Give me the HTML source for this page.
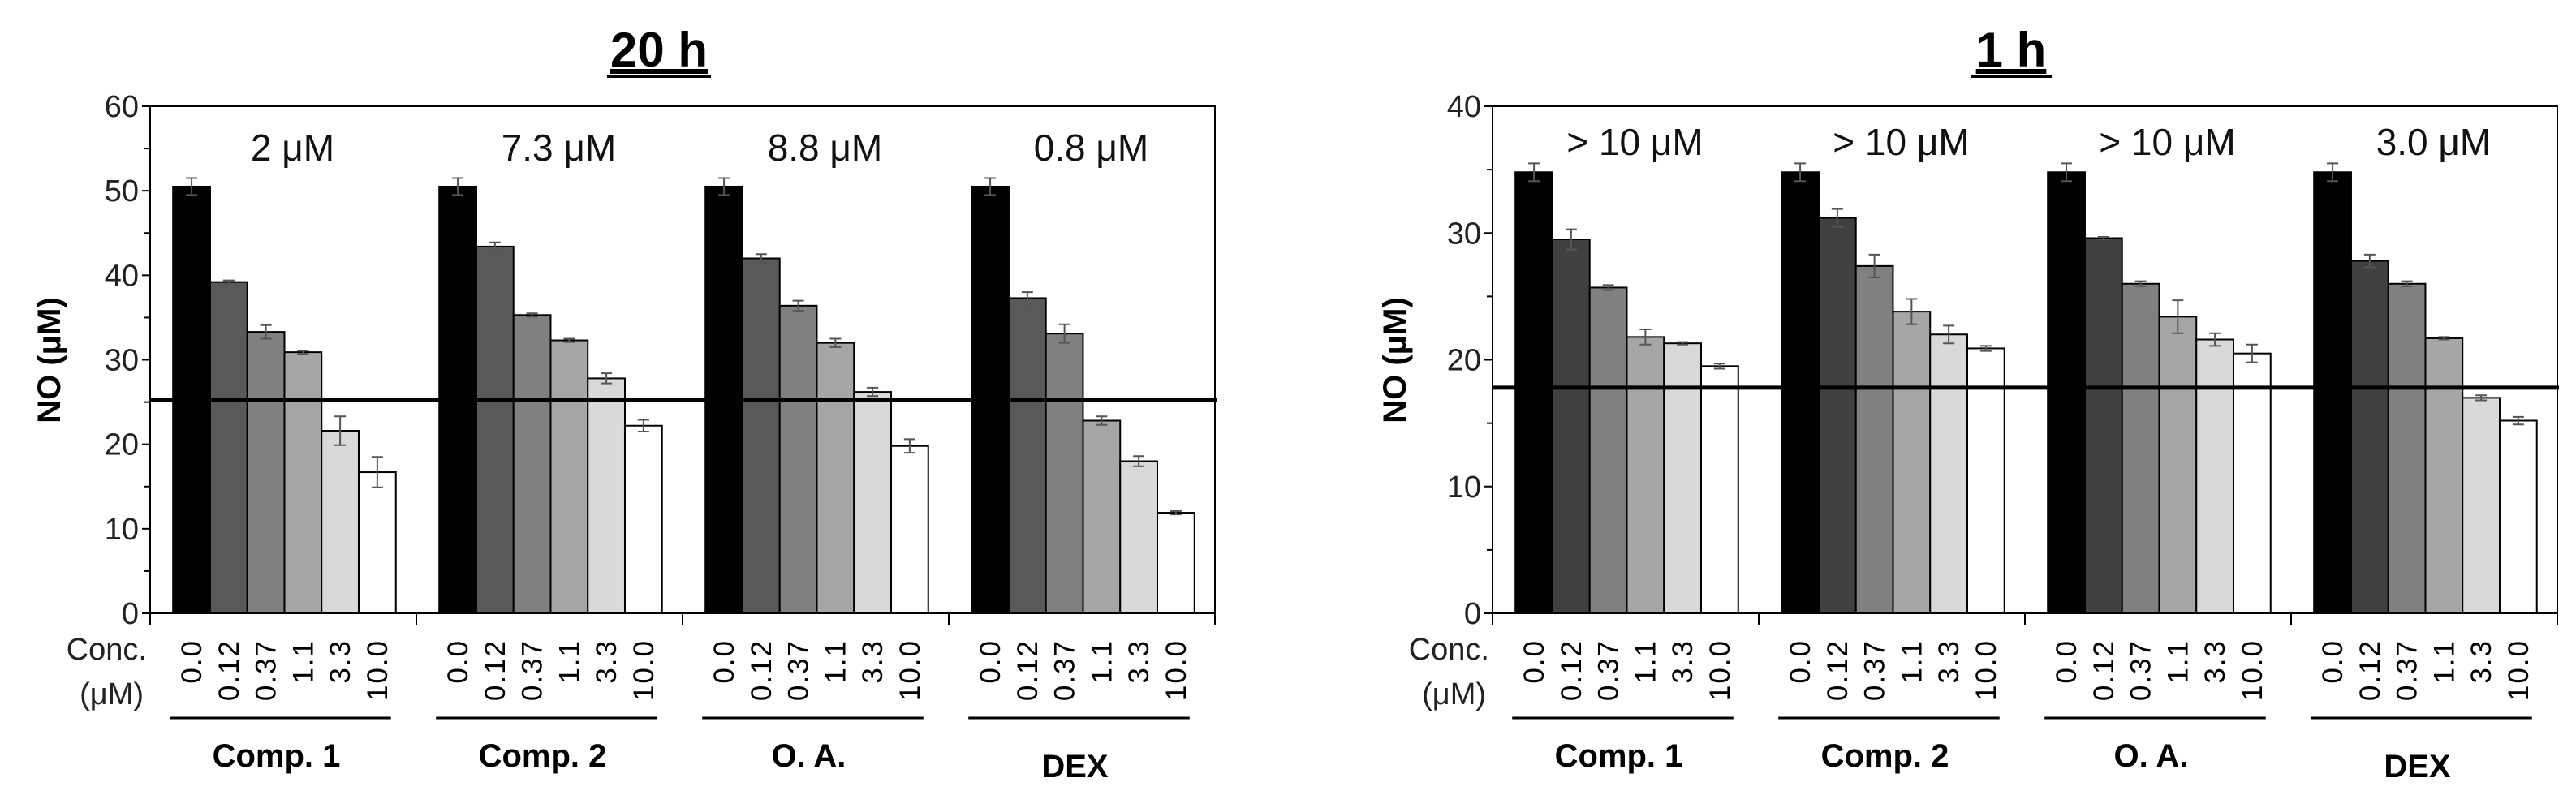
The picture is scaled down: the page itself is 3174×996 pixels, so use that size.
<!DOCTYPE html>
<html><head><meta charset="utf-8">
<style>
html,body{margin:0;padding:0;background:#fff;}
svg{display:block;font-family:"Liberation Sans",sans-serif;}
</style></head>
<body>
<svg id="chart" width="3174" height="996" viewBox="0 0 3174 996" xmlns="http://www.w3.org/2000/svg"></svg>
<script>
const groups = ["Comp. 1", "Comp. 2", "O. A.", "DEX"];
const concLabels = ["0.0", "0.12", "0.37", "1.1", "3.3", "10.0"];
const vals20 = [
  [50.5, 39.2, 33.3, 30.9, 21.6, 16.7],
  [50.5, 43.4, 35.3, 32.3, 27.8, 22.2],
  [50.5, 42.0, 36.4, 32.0, 26.2, 19.8],
  [50.5, 37.3, 33.1, 22.8, 18.0, 11.9]
];
const errs20 = [
  [1.0, 0.2, 0.8, 0.2, 1.7, 1.8],
  [1.0, 0.5, 0.2, 0.2, 0.6, 0.7],
  [1.0, 0.5, 0.6, 0.5, 0.5, 0.8],
  [1.0, 0.7, 1.1, 0.5, 0.6, 0.2]
];
const ic20 = ["2 μM", "7.3 μM", "8.8 μM", "0.8 μM"];
const thr20 = 25.2;
const ticks20 = [0, 10, 20, 30, 40, 50, 60];
const vals1 = [
  [34.8, 29.5, 25.7, 21.8, 21.3, 19.5],
  [34.8, 31.2, 27.4, 23.8, 22.0, 20.9],
  [34.8, 29.6, 26.0, 23.4, 21.6, 20.5],
  [34.8, 27.8, 26.0, 21.7, 17.0, 15.2]
];
const errs1 = [
  [0.7, 0.8, 0.2, 0.6, 0.1, 0.2],
  [0.7, 0.7, 0.9, 1.0, 0.7, 0.2],
  [0.7, 0.1, 0.2, 1.3, 0.5, 0.7],
  [0.7, 0.5, 0.2, 0.1, 0.2, 0.3]
];
const ic1 = ["> 10 μM", "> 10 μM", "> 10 μM", "3.0 μM"];
const thr1 = 17.8;
const ticks1 = [0, 10, 20, 30, 40];

const NS = "http://www.w3.org/2000/svg";
const svg = document.getElementById("chart");
function mk(tag, attrs, parent, text) {
  const e = document.createElementNS(NS, tag);
  for (const k in attrs) e.setAttribute(k, attrs[k]);
  if (text !== undefined) e.textContent = text;
  (parent || svg).appendChild(e);
  return e;
}

function panel(cfg) {
  const g = mk("g", {});
  
  
  const L = cfg.left, R = cfg.right, T = 131, B = 756;
  const ymax = cfg.ticks[cfg.ticks.length - 1];
  const y = v => B - (v / ymax) * (B - T);
  const catW = (R - L) / groups.length;
  const bw = catW * 0.1395;
  const off = catW * 0.086;
  const colors = ["#000000", cfg.dark, "#808080", "#a6a6a6", "#d9d9d9", "#ffffff"];

  // title
  const tt = mk("text", {x: cfg.titleX, y: 82, "font-size": 60, "font-weight": "bold", "text-anchor": "middle", "text-decoration": "underline"}, g, cfg.title);
  
  
  const tw = cfg.title.length * 28;
  mk("line", {x1: cfg.titleX - tw/2 - 8, x2: cfg.titleX + tw/2 + 8, y1: 94, y2: 94, stroke: "#000", "stroke-width": 4}, g);

  // frame
  const fr = mk("rect", {x: L, y: T, width: R - L, height: B - T, fill: "none", stroke: "#000", "stroke-width": 2}, g);
  
  

  // y ticks
  cfg.ticks.forEach(t => {
    mk("line", {x1: L - 10, x2: L, y1: y(t), y2: y(t), stroke: "#000", "stroke-width": 2}, g);
    const lb = mk("text", {x: L - 14, y: y(t) + 13, "font-size": 38, "text-anchor": "end", fill: "#222"}, g, String(t));
    
    
  });
  for (let i = 0; i < cfg.ticks.length - 1; i++) {
    const m = (cfg.ticks[i] + cfg.ticks[i+1]) / 2;
    mk("line", {x1: L - 7, x2: L, y1: y(m), y2: y(m), stroke: "#000", "stroke-width": 2}, g);
  }
  // y title
  const yt = mk("text", {x: 0, y: 0, "font-size": 40, "font-weight": "bold", "text-anchor": "middle", transform: `translate(${cfg.yTitleX},444) rotate(-90)`}, g, "NO (μM)");
  
  

  // category divider ticks
  for (let i = 0; i <= groups.length; i++) {
    mk("line", {x1: L + i*catW, x2: L + i*catW, y1: B, y2: B + 14, stroke: "#000", "stroke-width": 2}, g);
  }

  // bars
  groups.forEach((grp, gi) => {
    const gx = L + gi * catW + off;
    cfg.vals[gi].forEach((v, bi) => {
      const x = gx + bi * bw;
      const r = mk("rect", {x: x, y: y(v), width: bw, height: B - y(v), fill: colors[bi], stroke: "#000", "stroke-width": 2}, g);
      
      
      const e = cfg.errs[gi][bi];
      const cx = x + bw / 2;
      const eb = mk("path", {d: `M${cx},${y(v+e)}V${y(v-e)}M${cx-7},${y(v+e)}H${cx+7}M${cx-7},${y(v-e)}H${cx+7}`, stroke: "#555", "stroke-width": 2, fill: "none"}, g);
      
      
      const cl = mk("text", {x: 0, y: 0, "font-size": 35, "text-anchor": "end", "letter-spacing": "2", transform: `translate(${cx + 12},788) rotate(-90)`}, g, concLabels[bi]);
      
      
    });
    const a = mk("text", {x: gx + 3*bw + 10, y: cfg.icY, "font-size": 46, "text-anchor": "middle", fill: "#111"}, g, cfg.ic[gi]);
    
    
    mk("line", {x1: gx - 4, x2: gx + 6*bw - 6, y1: 885, y2: 885, stroke: "#000", "stroke-width": 3}, g);
    const gl = mk("text", {x: gx + 3*bw - 10, y: grp === "DEX" ? 958 : 945, "font-size": 40, "font-weight": "bold", "text-anchor": "middle"}, g, grp);
    
    
  });

  // threshold line
  const th = mk("line", {x1: L, x2: R + 2, y1: y(cfg.thr), y2: y(cfg.thr), stroke: "#000", "stroke-width": 5}, g);
  
  

  const c1 = mk("text", {x: L - 4, y: 813, "font-size": 38, "text-anchor": "end", fill: "#222"}, g, "Conc.");
  
  
  const c2 = mk("text", {x: L - 8, y: 868, "font-size": 38, "text-anchor": "end", fill: "#222"}, g, "(μM)");
  
  
}

panel({name: "panel-20h", title: "20 h", titleX: 812, left: 185, right: 1497, dark: "#595959",
  vals: vals20, errs: errs20, ic: ic20, thr: thr20, ticks: ticks20, icY: 198, yTitleX: 74});
panel({name: "panel-1h", title: "1 h", titleX: 2478, left: 1839, right: 3151, dark: "#404040",
  vals: vals1, errs: errs1, ic: ic1, thr: thr1, ticks: ticks1, icY: 191, yTitleX: 1732});
</script>
</body></html>
